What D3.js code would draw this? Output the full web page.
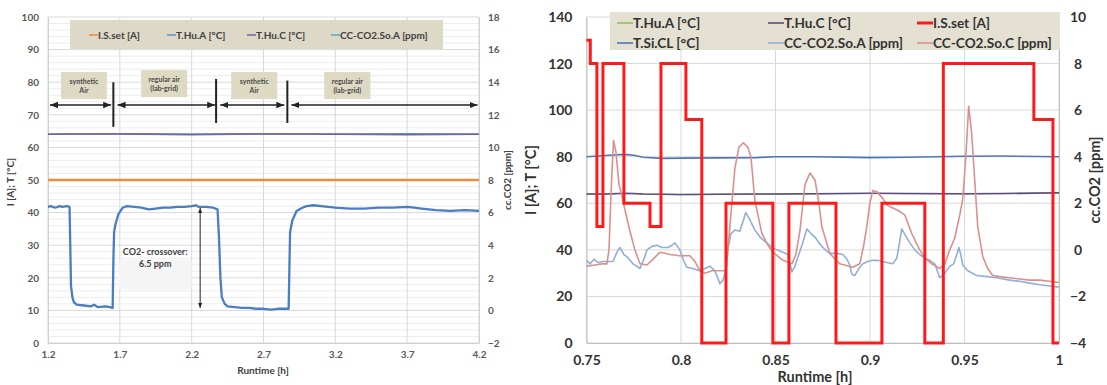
<!DOCTYPE html>
<html><head><meta charset="utf-8">
<script src="https://cdn.jsdelivr.net/npm/d3@7"></script>
<style>
body{margin:0;background:#fff;}
svg{display:block;font-family:Lato,"Open Sans",sans-serif;font-weight:700;}
</style></head>
<body><svg id="c" width="1107" height="385"></svg>
<script>
// ---------------- LEFT CHART DATA ----------------
const leftXTicks = [1.2, 1.7, 2.2, 2.7, 3.2, 3.7, 4.2];
const leftYTicks = [0, 10, 20, 30, 40, 50, 60, 70, 80, 90, 100];
const leftY2Ticks = [-2, 0, 2, 4, 6, 8, 10, 12, 14, 16, 18];
const leftSeriesNames = ["I.S.set [A]", "T.Hu.A [°C]", "T.Hu.C [°C]", "CC-CO2.So.A [ppm]"];
const leftConstTime = [1.2, 1.7, 2.2, 2.7, 3.2, 3.7, 4.2];
const leftISset = [50, 50, 50, 50, 50, 50, 50];
const leftHuA = [64.1, 64.2, 64.1, 64.2, 64.1, 64.2, 64.1];
const leftHuC = [64.0, 64.1, 63.9, 64.1, 64.0, 63.9, 64.0];
const leftCO2Time = [1.20,1.22,1.25,1.28,1.30,1.33,1.35,1.355,1.36,1.37,1.38,1.40,1.45,1.50,1.52,1.55,1.60,1.63,1.65,1.655,1.66,1.67,1.69,1.72,1.75,1.80,1.85,1.90,1.95,2.00,2.05,2.10,2.15,2.20,2.23,2.25,2.30,2.35,2.38,2.39,2.40,2.41,2.43,2.45,2.50,2.55,2.60,2.65,2.70,2.75,2.80,2.85,2.875,2.88,2.885,2.90,2.93,2.97,3.00,3.05,3.10,3.15,3.20,3.30,3.40,3.50,3.60,3.70,3.75,3.80,3.90,4.00,4.10,4.20];
const leftCO2A = [6.35,6.4,6.3,6.4,6.35,6.4,6.35,4.0,1.5,0.8,0.5,0.35,0.3,0.25,0.35,0.2,0.25,0.2,0.15,3.0,4.8,5.3,5.9,6.3,6.4,6.35,6.3,6.2,6.25,6.3,6.3,6.35,6.35,6.4,6.45,6.35,6.35,6.3,6.2,4.5,2.0,0.8,0.4,0.25,0.2,0.15,0.15,0.1,0.1,0.05,0.1,0.1,0.1,2.5,4.8,5.5,6.1,6.3,6.4,6.45,6.4,6.35,6.3,6.25,6.25,6.3,6.3,6.35,6.3,6.25,6.15,6.1,6.15,6.1];
// annotations (data units)
const leftPhaseLabels = [["synthetic","Air"],["regular air","(lab-grid)"],["synthetic","Air"],["regular air","(lab-grid)"]];
const leftPhaseBoxT = [[1.29,1.61],[1.848,2.169],[2.475,2.796],[3.123,3.444]];
const leftPhaseArrowT = [[1.2,1.64],[1.67,2.364],[2.385,2.845],[2.88,4.19]];
const leftPhaseSwitchT = [1.655, 2.37, 2.866];
const crossoverLabel = ["CO2- crossover:", "6.5 ppm"];

// ---------------- RIGHT CHART DATA ----------------
const rightXTicks = [0.75, 0.8, 0.85, 0.9, 0.95, 1];
const rightYTicks = [0, 20, 40, 60, 80, 100, 120, 140];
const rightY2Ticks = [-4, -2, 0, 2, 4, 6, 8, 10];
const rightSeriesNames = ["T.Hu.A [°C]", "T.Hu.C [°C]", "I.S.set [A]", "T.Si.CL [°C]", "CC-CO2.So.A [ppm]", "CC-CO2.So.C [ppm]"];
const rTempTime = [0.75,0.76,0.77,0.775,0.78,0.79,0.80,0.82,0.84,0.85,0.87,0.90,0.92,0.95,0.97,1.0];
const rHuA = [63.9,63.9,64.2,64.1,63.9,63.8,63.7,63.8,63.9,63.9,64.0,64.2,64.1,64.0,64.1,64.4];
const rHuC = [64.0,64.0,64.3,64.2,64.0,63.9,63.8,63.9,64.0,64.0,64.1,64.3,64.2,64.1,64.2,64.5];
const rSiCL = [80,80.5,81,80.6,79.8,79.3,79.4,79.5,79.6,80,80,79.6,79.8,80.2,80.3,80];
const rISTime = [0.75,0.752,0.7555,0.7587,0.7698,0.7836,0.7894,0.8026,0.811,0.8238,0.8486,0.8571,0.882,0.9063,0.929,0.9388,0.9867,0.9968,1.0];
const rISset = [130,120,50,120,60,50,120,96,0,60,0,60,0,60,0,120,96,0,0];
const rSoCTime = [0.75,0.7545,0.7587,0.7608,0.7619,0.763,0.7643,0.7656,0.7672,0.7688,0.7704,0.773,0.7756,0.7783,0.782,0.7852,0.7889,0.7942,0.7994,0.8047,0.8074,0.81,0.8127,0.8164,0.8206,0.8238,0.8248,0.8264,0.8285,0.8306,0.833,0.8354,0.837,0.8391,0.8428,0.846,0.8486,0.8539,0.8587,0.8608,0.8629,0.8656,0.8682,0.8709,0.873,0.8745,0.8787,0.884,0.8909,0.8946,0.8967,0.8983,0.8999,0.9015,0.9036,0.9068,0.9094,0.9121,0.9147,0.9184,0.9221,0.9263,0.9295,0.9327,0.9369,0.9396,0.9422,0.9448,0.9475,0.9491,0.9507,0.9522,0.9538,0.9554,0.957,0.9597,0.9623,0.9649,0.9686,0.9739,0.9792,0.9845,0.9898,0.9951,0.9999];
const rSoC = [-0.7,-0.65,-0.6,-0.6,0.0,2.5,4.7,4.2,2.8,2.3,1.7,0.8,0.0,-0.6,-0.65,-0.4,-0.1,-0.2,-0.25,-0.25,-0.5,-0.9,-1.0,-0.9,-0.9,-0.9,0.0,1.5,3.5,4.4,4.6,4.4,4.0,2.1,0.7,0.2,-0.1,-0.45,-0.6,-0.2,0.8,2.8,3.3,3.0,2.0,1.0,-0.15,-0.6,-0.75,-0.6,0.2,1.0,2.0,2.55,2.5,2.2,1.9,1.8,1.7,1.5,0.7,0.0,-0.4,-0.6,-0.8,-0.6,0.0,0.5,1.5,2.2,4.0,6.17,5.0,3.0,1.0,-0.3,-0.8,-1.1,-1.15,-1.2,-1.25,-1.3,-1.3,-1.35,-1.4];
const rSoATime = [0.75,0.7519,0.754,0.7561,0.7587,0.7614,0.764,0.7661,0.7677,0.7698,0.7714,0.7746,0.7783,0.7804,0.782,0.7846,0.7873,0.7899,0.7931,0.7952,0.7968,0.7994,0.8016,0.8031,0.8063,0.81,0.8127,0.8153,0.8179,0.8206,0.8222,0.8238,0.8248,0.8264,0.8285,0.8311,0.8327,0.8343,0.8364,0.8391,0.8423,0.8454,0.8481,0.8507,0.8539,0.8565,0.8587,0.8603,0.8619,0.864,0.8666,0.8687,0.8709,0.873,0.8751,0.8777,0.8798,0.8825,0.8856,0.8878,0.8893,0.8904,0.892,0.8941,0.8962,0.8988,0.9015,0.9041,0.9068,0.9094,0.9121,0.9142,0.9158,0.9168,0.9189,0.9211,0.9237,0.9263,0.929,0.9316,0.9343,0.9369,0.9396,0.9422,0.9443,0.9459,0.947,0.948,0.9491,0.9517,0.9565,0.9618,0.967,0.9739,0.9792,0.9845,0.9898,0.9951,0.9999];
const rSoA = [-0.45,-0.6,-0.4,-0.55,-0.5,-0.5,-0.5,-0.1,0.1,-0.2,-0.3,-0.6,-0.8,-0.4,0.0,0.15,0.2,0.1,0.1,0.2,0.3,0.0,-0.5,-0.75,-0.8,-0.9,-0.8,-0.7,-0.9,-1.45,-1.3,-0.9,0.0,0.7,0.85,0.8,1.2,1.6,1.3,0.85,0.5,0.3,0.1,0.0,-0.1,-0.2,-0.95,-0.7,-0.3,0.2,0.9,0.7,0.55,0.3,0.1,-0.1,-0.15,-0.15,-0.2,-0.4,-0.65,-1.05,-1.1,-0.8,-0.6,-0.5,-0.45,-0.45,-0.5,-0.55,-0.6,-0.35,0.4,0.9,0.6,0.3,0.0,-0.2,-0.35,-0.45,-0.6,-1.2,-1.0,-0.7,-0.6,-0.2,0.1,-0.2,-0.65,-0.9,-1.1,-1.15,-1.2,-1.3,-1.35,-1.43,-1.5,-1.55,-1.6];

// ---------------- DRAW ----------------
const svg = d3.select("#c");
const tickCol = "#595959";

function zip(t, v){ return t.map((d,i)=>[d, v[i]]); }

// ===== LEFT =====
(function(){
  const x = d3.scaleLinear().domain([1.2, 4.2]).range([48, 479]);
  const y = d3.scaleLinear().domain([0, 100]).range([343, 17]);
  const y2 = d3.scaleLinear().domain([-2, 18]).range([343, 17]);
  const g = svg.append("g");
  g.append("g").selectAll("line").data(d3.range(0, 101, 2).filter(v=>v%10)).join("line")
    .attr("x1", x(1.2)).attr("x2", x(4.2)).attr("y1", d=>y(d)).attr("y2", d=>y(d))
    .attr("stroke", "#ececec").attr("stroke-width", 1);
  g.append("g").selectAll("line").data(leftYTicks).join("line")
    .attr("x1", x(1.2)).attr("x2", x(4.2)).attr("y1", d=>y(d)).attr("y2", d=>y(d))
    .attr("stroke", "#d9d9d9").attr("stroke-width", 1);
  g.append("g").selectAll("line").data(leftXTicks).join("line")
    .attr("x1", d=>x(d)).attr("x2", d=>x(d)).attr("y1", y(0)).attr("y2", y(100))
    .attr("stroke", "#d9d9d9").attr("stroke-width", 1);
  const ax = g.append("g").attr("transform", `translate(0,${y(0)})`)
    .call(d3.axisBottom(x).tickValues(leftXTicks).tickSize(0).tickPadding(8).tickFormat(d3.format(".1f")));
  const ayl = g.append("g").attr("transform", `translate(${x(1.2)},0)`)
    .call(d3.axisLeft(y).tickValues(leftYTicks).tickSize(0).tickPadding(9));
  const ayr = g.append("g").attr("transform", `translate(${x(4.2)},0)`)
    .call(d3.axisRight(y2).tickValues(leftY2Ticks).tickSize(0).tickPadding(9));
  [ax, ayl, ayr].forEach(a=>{
    a.select(".domain").attr("stroke", "#d0d0d0");
    a.selectAll("text").attr("fill", tickCol).attr("font-size", 10).attr("font-family","Lato").attr("font-weight",700);
  });
  g.append("text").attr("x", 263).attr("y", 374).attr("text-anchor","middle").attr("font-size",10).attr("fill","#404040").text("Runtime [h]");
  g.append("text").attr("transform","translate(14,182) rotate(-90)").attr("text-anchor","middle").attr("font-size",10).attr("fill","#404040").text("I [A]; T [°C]");
  g.append("text").attr("transform","translate(511,180) rotate(-90)").attr("text-anchor","middle").attr("font-size",10).attr("fill","#404040").text("cc.CO2 [ppm]");

  const line = d3.line().x(d=>x(d[0])).y(d=>y(d[1]));
  const line2 = d3.line().x(d=>x(d[0])).y(d=>y2(d[1]));
  g.append("path").attr("d", line(zip(leftConstTime, leftISset))).attr("fill","none").attr("stroke","#f08a3c").attr("stroke-width",2.5);
  g.append("path").attr("d", line(zip(leftConstTime, leftHuA))).attr("fill","none").attr("stroke","#5b8fd0").attr("stroke-width",1.5);
  g.append("path").attr("d", line(zip(leftConstTime, leftHuC))).attr("fill","none").attr("stroke","#7a62a8").attr("stroke-width",1.5);
  g.append("path").attr("d", line2(zip(leftCO2Time, leftCO2A))).attr("fill","none").attr("stroke","#4a7dc2").attr("stroke-width",2.3).attr("stroke-linejoin","round");

  g.append("rect").attr("x",70).attr("y",20).attr("width",373).attr("height",29).attr("fill","#ddd9c6");
  const lcol = ["#f08a3c","#5b8fd0","#7a62a8","#5aa5c8"];
  const lx = [89, 167, 247, 331];
  leftSeriesNames.forEach((n,i)=>{
    g.append("line").attr("x1",lx[i]).attr("x2",lx[i]+9).attr("y1",35).attr("y2",35).attr("stroke",lcol[i]).attr("stroke-width",1.5);
    g.append("text").attr("x",lx[i]+9).attr("y",38.5).attr("font-size",10).attr("fill","#404040").text(n);
  });

  const defs = svg.append("defs");
  defs.append("marker").attr("id","ah").attr("viewBox","0 0 10 10").attr("refX",10).attr("refY",5)
    .attr("markerWidth",5).attr("markerHeight",5).attr("orient","auto-start-reverse")
    .append("path").attr("d","M0,1L10,5L0,9Z").attr("fill","#222");
  leftPhaseBoxT.forEach((b,i)=>{
    const yt = i===1 ? 83.7 : 83.1;
    g.append("rect").attr("x",x(b[0])).attr("y",y(yt)).attr("width",x(b[1])-x(b[0])).attr("height",y(yt-8.3)-y(yt)).attr("fill","#ddd9c3");
    const cx = (x(b[0])+x(b[1]))/2, cy = y(yt-4.15);
    g.append("text").attr("x",cx).attr("y",cy-2).attr("text-anchor","middle").attr("font-size",7).attr("fill","#4a4a4a").text(leftPhaseLabels[i][0]);
    g.append("text").attr("x",cx).attr("y",cy+7).attr("text-anchor","middle").attr("font-size",7).attr("fill","#4a4a4a").text(leftPhaseLabels[i][1]);
  });
  leftPhaseArrowT.forEach(a=>{
    g.append("line").attr("x1",x(a[0])+2).attr("x2",x(a[1])).attr("y1",y(73)).attr("y2",y(73))
      .attr("stroke","#222").attr("stroke-width",1.6).attr("marker-start","url(#ah)").attr("marker-end","url(#ah)");
  });
  const swTop = [80, 81, 80.5], swBot = [66.3, 67.5, 67.5];
  leftPhaseSwitchT.forEach((t,i)=>{
    g.append("line").attr("x1",x(t)).attr("x2",x(t)).attr("y1",y(swTop[i])).attr("y2",y(swBot[i])).attr("stroke","#222").attr("stroke-width",2);
  });
  g.append("rect").attr("x",x(1.69)).attr("y",y2(3.1)).attr("width",x(2.2)-x(1.69)).attr("height",y2(1.3)-y2(3.1)).attr("fill","#f5f5f5").attr("rx",3);
  g.append("text").attr("x",x(1.946)).attr("y",255).attr("text-anchor","middle").attr("font-size",9).attr("fill","#404040").text(crossoverLabel[0]);
  g.append("text").attr("x",x(1.946)).attr("y",267).attr("text-anchor","middle").attr("font-size",9).attr("fill","#404040").text(crossoverLabel[1]);
  g.append("line").attr("x1",x(2.259)).attr("x2",x(2.259)).attr("y1",y2(6.28)).attr("y2",y2(0.15))
    .attr("stroke","#222").attr("stroke-width",1).attr("marker-start","url(#ah)").attr("marker-end","url(#ah)");
})();

// ===== RIGHT =====
(function(){
  const x = d3.scaleLinear().domain([0.75, 1]).range([586.5, 1059]);
  const y = d3.scaleLinear().domain([0, 140]).range([343, 17]);
  const y2 = d3.scaleLinear().domain([-4, 10]).range([343, 17]);
  const g = svg.append("g");
  g.append("g").selectAll("line").data(rightYTicks).join("line")
    .attr("x1", x(0.75)).attr("x2", x(1)).attr("y1", d=>y(d)).attr("y2", d=>y(d))
    .attr("stroke", "#d9d9d9").attr("stroke-width", 1);
  g.append("g").selectAll("line").data(rightXTicks).join("line")
    .attr("x1", d=>x(d)).attr("x2", d=>x(d)).attr("y1", y(0)).attr("y2", y(140))
    .attr("stroke", "#d9d9d9").attr("stroke-width", 1);
  const fmt = d => (d===1 ? "1" : String(d));
  const ax = g.append("g").attr("transform", `translate(0,${y(0)})`)
    .call(d3.axisBottom(x).tickValues(rightXTicks).tickSize(0).tickPadding(12).tickFormat(fmt));
  const ayl = g.append("g").attr("transform", `translate(${x(0.75)},0)`)
    .call(d3.axisLeft(y).tickValues(rightYTicks).tickSize(0).tickPadding(14));
  const ayr = g.append("g").attr("transform", `translate(${x(1)},0)`)
    .call(d3.axisRight(y2).tickValues(rightY2Ticks).tickSize(0).tickPadding(10));
  [ax, ayl, ayr].forEach(a=>{
    a.select(".domain").attr("stroke", "#bfbfbf");
    a.selectAll("text").attr("fill", "#333").attr("font-size", 14).attr("font-family","Lato").attr("font-weight",700);
  });
  ayr.selectAll("text").attr("text-anchor","middle").attr("x", 1078 - x(1));
  g.append("text").attr("x", 815).attr("y", 382).attr("text-anchor","middle").attr("font-size",14.5).attr("fill","#333").text("Runtime [h]");
  g.append("text").attr("transform","translate(536,180) rotate(-90)").attr("text-anchor","middle").attr("font-size",14.5).attr("fill","#333").text("I [A]; T [°C]");
  g.append("text").attr("transform","translate(1100,180) rotate(-90)").attr("text-anchor","middle").attr("font-size",14.5).attr("fill","#333").text("cc.CO2 [ppm]");

  const line = d3.line().x(d=>x(d[0])).y(d=>y(d[1]));
  const line2 = d3.line().x(d=>x(d[0])).y(d=>y2(d[1]));
  const step = d3.line().x(d=>x(d[0])).y(d=>y(d[1])).curve(d3.curveStepAfter);
  const cols = {hua:"#9bbb59", huc:"#5c4a80", is:"#ff1a1a", si:"#4f77b8", soa:"#93afd6", soc:"#d9918e"};
  g.append("path").attr("d", line(zip(rTempTime, rHuA))).attr("fill","none").attr("stroke",cols.hua).attr("stroke-width",1.2);
  g.append("path").attr("d", line(zip(rTempTime, rHuC))).attr("fill","none").attr("stroke",cols.huc).attr("stroke-width",1.6);
  g.append("path").attr("d", line(zip(rTempTime, rSiCL))).attr("fill","none").attr("stroke",cols.si).attr("stroke-width",1.6);
  g.append("path").attr("d", line2(zip(rSoATime, rSoA))).attr("fill","none").attr("stroke",cols.soa).attr("stroke-width",1.6).attr("stroke-linejoin","round");
  g.append("path").attr("d", line2(zip(rSoCTime, rSoC))).attr("fill","none").attr("stroke",cols.soc).attr("stroke-width",1.6).attr("stroke-linejoin","round");
  g.append("path").attr("d", step(zip(rISTime, rISset))).attr("fill","none").attr("stroke",cols.is).attr("stroke-width",3);

  g.append("rect").attr("x",610).attr("y",12).attr("width",450).attr("height",38).attr("fill","#e4e0d2");
  const lc = [cols.hua, cols.huc, cols.is, cols.si, cols.soa, cols.soc];
  const lxs = [617, 768, 917];
  rightSeriesNames.forEach((n,i)=>{
    const cx = lxs[i%3], cy = i<3 ? 23 : 43;
    g.append("line").attr("x1",cx).attr("x2",cx+16).attr("y1",cy).attr("y2",cy).attr("stroke",lc[i]).attr("stroke-width", i===2?3:1.6);
    g.append("text").attr("x",cx+16).attr("y",cy+5).attr("font-size",13.6).attr("fill","#333").text(n);
  });
})();
</script>
</body></html>
